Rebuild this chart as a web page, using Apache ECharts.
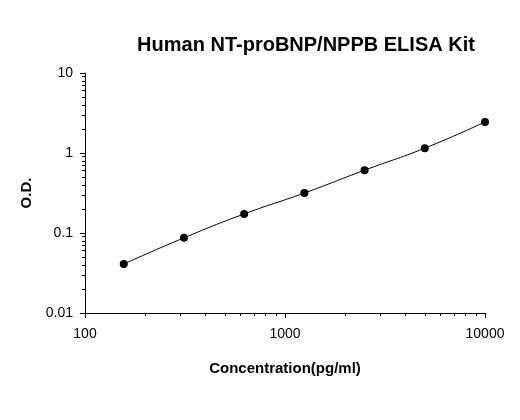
<!DOCTYPE html><html><head><meta charset="utf-8"><script src="https://cdn.jsdelivr.net/npm/echarts@6/dist/echarts.min.js"></script></head><body style="margin:0"><div id="c" style="width:520px;height:420px"></div><script>
const concentrations=[156.25,312.5,625,1250,2500,5000,10000];
const od=[0.041,0.087,0.173,0.316,0.61,1.15,2.44];
const yTicks=[0.01,0.1,1,10];
const xTicks=[100,1000,10000];
const ch=echarts.init(document.getElementById('c'));
ch.setOption({backgroundColor:'#fff',animation:false,
title:{text:'Human NT-proBNP/NPPB ELISA Kit',left:301,top:30,textAlign:'center',textStyle:{fontFamily:'Liberation Sans',fontWeight:'bold',fontSize:20,color:'#000'}},
grid:{left:85,right:35,top:73,bottom:107},
xAxis:{type:'log',min:100,max:10000,logBase:10,name:'Concentration(pg/ml)',nameLocation:'middle',nameGap:48,nameTextStyle:{fontFamily:'Liberation Sans',fontWeight:'bold',fontSize:15,color:'#000'},
axisLine:{lineStyle:{color:'#000'}},axisTick:{inside:false,lineStyle:{color:'#000'}},minorTick:{show:true,splitNumber:9,lineStyle:{color:'#000'}},splitLine:{show:false},
axisLabel:{color:'#000',fontSize:14,fontFamily:'Liberation Sans',margin:14,formatter:v=>String(Math.round(v))}},
yAxis:{type:'log',min:0.01,max:10,logBase:10,name:'O.D.',nameLocation:'middle',nameGap:50,nameTextStyle:{fontFamily:'Liberation Sans',fontWeight:'bold',fontSize:15,color:'#000'},
axisLine:{show:true,lineStyle:{color:'#000'}},axisTick:{show:true,lineStyle:{color:'#000'}},minorTick:{show:true,splitNumber:9,lineStyle:{color:'#000'}},splitLine:{show:false},
axisLabel:{color:'#000',fontSize:14,fontFamily:'Liberation Sans',margin:12,formatter:v=>String(+v.toPrecision(2))}},
series:[{type:'line',smooth:true,data:concentrations.map((c,i)=>[c,od[i]]),symbol:'circle',symbolSize:8,itemStyle:{color:'#000'},lineStyle:{color:'#000',width:1}}]});
</script></body></html>
